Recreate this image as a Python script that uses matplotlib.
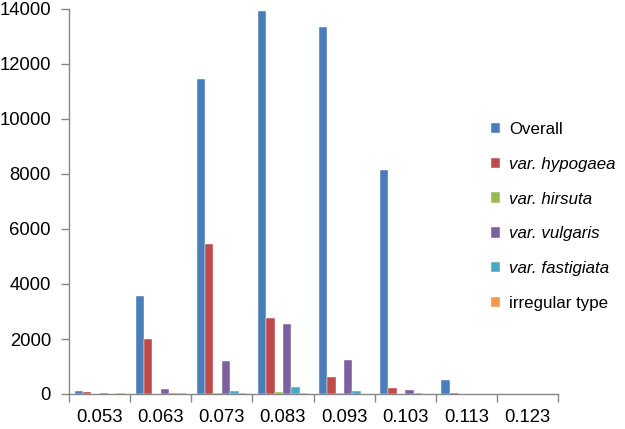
import matplotlib
matplotlib.use("Agg")
import matplotlib.pyplot as plt
import numpy as np

categories = ["0.053", "0.063", "0.073", "0.083", "0.093", "0.103", "0.113", "0.123"]
series_names = ["Overall", "var. hypogaea", "var. hirsuta", "var. vulgaris",
                "var. fastigiata", "irregular type"]
overall = [100, 3550, 11450, 13920, 13330, 8130, 500, 10]
hypogaea = [70, 2000, 5450, 2760, 620, 220, 20, 15]
hirsuta = [0, 10, 50, 60, 20, 5, 0, 0]
vulgaris = [20, 180, 1210, 2540, 1220, 150, 10, 15]
fastigiata = [10, 20, 120, 240, 100, 20, 5, 5]
irregular = [20, 20, 20, 20, 10, 5, 0, 0]
yticks = [0, 2000, 4000, 6000, 8000, 10000, 12000, 14000]

colors = ["#4A7EBB", "#BE4B48", "#98B954", "#7D60A0", "#46AAC5", "#F79646"]
series = [overall, hypogaea, hirsuta, vulgaris, fastigiata, irregular]

plt.rcParams['font.family'] = ['Liberation Sans', 'DejaVu Sans']

fig = plt.figure(figsize=(6.25, 4.29), dpi=100)
ax = fig.add_axes([69/625, 1-394/429, (558-69)/625, (394-9)/429])

x = np.arange(len(categories))
n = len(series)
group_w = 0.82
bw = group_w / n
for k, (vals, c, name) in enumerate(zip(series, colors, series_names)):
    ax.bar(x - group_w/2 + bw*(k+0.5), vals, width=bw, color=c,
           edgecolor='white', linewidth=0.3, label=name)

ax.set_xlim(-0.5, len(categories)-0.5)
ax.set_ylim(0, 14000)
ax.set_yticks(yticks)
ax.set_yticklabels([str(v) for v in yticks])
ax.set_xticks(x)
ax.set_xticklabels(categories)
ax.set_xticks(np.arange(-0.5, len(categories)), minor=True)
ax.tick_params(axis='x', which='major', length=0, pad=11, labelsize=13.3)
ax.tick_params(axis='x', which='minor', length=6, color='#868686', width=1)
ax.tick_params(axis='y', which='major', length=6, color='#868686', width=1, pad=7, labelsize=13.3)

for s in ['top', 'right']:
    ax.spines[s].set_visible(False)
for s in ['left', 'bottom']:
    ax.spines[s].set_color('#868686')
    ax.spines[s].set_linewidth(1)

leg = fig.legend(loc='center left', bbox_to_anchor=(491/625, 1-216.5/429),
                 frameon=False, fontsize=12.2, handlelength=0.55, handleheight=0.55,
                 handletextpad=0.5, labelspacing=1.17, borderpad=0, borderaxespad=0)
for t in leg.get_texts()[1:5]:
    t.set_fontstyle('italic')

fig.savefig("out.png", dpi=100)
